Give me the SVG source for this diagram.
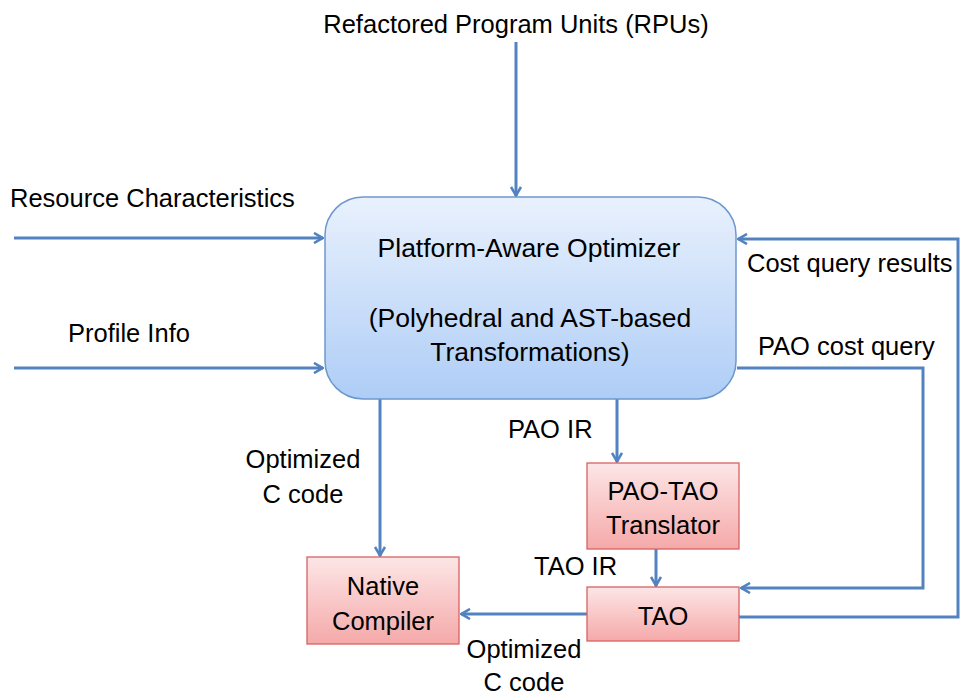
<svg xmlns="http://www.w3.org/2000/svg" width="960" height="696" viewBox="0 0 960 696">
  <defs>
    <linearGradient id="gradBlue" x1="0" y1="0" x2="0" y2="1">
      <stop offset="0" stop-color="#e9f1fd"/>
      <stop offset="1" stop-color="#aecdf6"/>
    </linearGradient>
    <linearGradient id="gradRed" x1="0" y1="0" x2="0" y2="1">
      <stop offset="0" stop-color="#fde6e6"/>
      <stop offset="1" stop-color="#f5a9a9"/>
    </linearGradient>
    <marker id="arrow" viewBox="0 0 12 12" refX="11" refY="6" markerWidth="12" markerHeight="12" markerUnits="userSpaceOnUse" orient="auto">
      <polyline points="2,1 10.5,6 2,11" fill="none" stroke="#5283c0" stroke-width="2.6" stroke-linejoin="miter"/>
    </marker>
  </defs>
  <style>
    text { font-family: "Liberation Sans", Arial, sans-serif; font-size: 25.5px; fill: #000; }
    .mid { text-anchor: middle; }
    .big { font-size: 26.5px; }
    .conn { fill: none; stroke: #5283c0; stroke-width: 3; marker-end: url(#arrow); }
    .opt { fill: url(#gradBlue); stroke: #6d98cc; stroke-width: 1.5; }
    .unit { fill: url(#gradRed); stroke: #d86262; stroke-width: 1.3; }
  </style>
  <rect width="960" height="696" fill="#ffffff"/>

  <!-- connectors -->
  <g id="connectors">
    <path class="conn" d="M516,42 V196"/>
    <path class="conn" d="M14,238 H323"/>
    <path class="conn" d="M14,368 H323"/>
    <path class="conn" d="M739,617 H958 V239 H738"/>
    <path class="conn" d="M737,368 H923 V588 H741"/>
    <path class="conn" d="M617,399 V462"/>
    <path class="conn" d="M656,549 V586"/>
    <path class="conn" d="M380,399 V556"/>
    <path class="conn" d="M587,614 H461"/>
  </g>

  <!-- edge labels -->
  <g id="labels">
    <text class="mid" x="516" y="33">Refactored Program Units (RPUs)</text>
    <text x="10" y="207">Resource Characteristics</text>
    <text x="68" y="342">Profile Info</text>
    <text x="747" y="272">Cost query results</text>
    <text x="758" y="355">PAO cost query</text>
    <text x="508" y="438">PAO IR</text>
    <text x="534" y="575">TAO IR</text>
    <text class="mid" x="303" y="468">Optimized</text>
    <text class="mid" x="303" y="503">C code</text>
    <text class="mid" x="524" y="658">Optimized</text>
    <text class="mid" x="524" y="691">C code</text>
  </g>

  <g id="pao">
    <rect class="opt" x="325" y="197" width="411" height="202" rx="38" ry="38"/>
    <text class="mid big" x="529" y="257">Platform-Aware Optimizer</text>
    <text class="mid big" x="530" y="327">(Polyhedral and AST-based</text>
    <text class="mid big" x="530" y="361">Transformations)</text>
  </g>

  <g id="translator">
    <rect class="unit" x="587" y="463" width="152" height="86"/>
    <text class="mid" x="663" y="500">PAO-TAO</text>
    <text class="mid" x="663" y="534">Translator</text>
  </g>

  <g id="tao">
    <rect class="unit" x="587" y="587" width="152" height="54"/>
    <text class="mid" x="663" y="625">TAO</text>
  </g>

  <g id="native">
    <rect class="unit" x="307" y="557" width="152" height="87"/>
    <text class="mid" x="383" y="595">Native</text>
    <text class="mid" x="383" y="630">Compiler</text>
  </g>
</svg>
